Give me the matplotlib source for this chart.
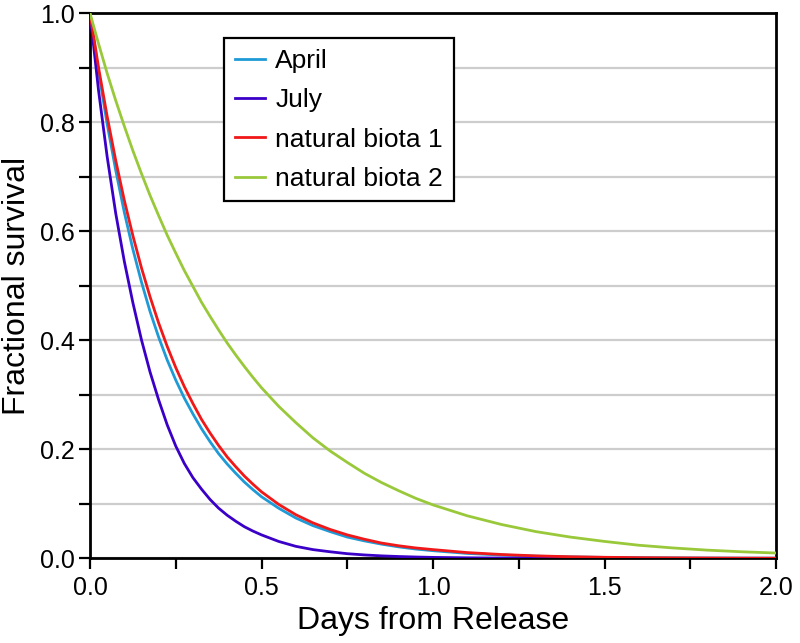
import matplotlib
matplotlib.use("Agg")
import matplotlib.pyplot as plt
from matplotlib.ticker import MultipleLocator, FormatStrFormatter

plt.rcParams['font.family'] = ['Liberation Sans', 'DejaVu Sans']

days = [0.0, 0.025, 0.05, 0.075, 0.1, 0.125, 0.15, 0.175, 0.2, 0.225, 0.25, 0.275, 0.3,
        0.325, 0.35, 0.375, 0.4, 0.425, 0.45, 0.475, 0.5,
        0.55, 0.6, 0.65, 0.7, 0.75, 0.8, 0.85, 0.9, 0.95, 1.0,
        1.1, 1.2, 1.3, 1.4, 1.5, 1.6, 1.7, 1.8, 1.9, 2.0]

april = [1.0, 0.893, 0.797, 0.712, 0.635, 0.567, 0.507, 0.453, 0.406, 0.364, 0.327, 0.294, 0.265,
         0.238, 0.214, 0.192, 0.173, 0.156, 0.140, 0.126, 0.113,
         0.092, 0.074, 0.060, 0.049, 0.039, 0.032, 0.026, 0.021, 0.017, 0.014,
         0.009, 0.006, 0.0039, 0.0026, 0.0017, 0.0011, 0.0007, 0.0005, 0.0003, 0.0002]

july = [1.0, 0.858, 0.737, 0.633, 0.545, 0.469, 0.401, 0.342, 0.291, 0.245, 0.206, 0.174, 0.148,
        0.127, 0.108, 0.092, 0.079, 0.068, 0.058, 0.050, 0.043,
        0.031, 0.022, 0.016, 0.012, 0.0085, 0.0062, 0.0045, 0.0033, 0.0024, 0.0017,
        0.0009, 0.0005, 0.0003, 0.0001, 0.0001, 0.0, 0.0, 0.0, 0.0, 0.0]

natural_biota_1 = [1.0, 0.900, 0.811, 0.730, 0.657, 0.592, 0.533, 0.480, 0.432, 0.389, 0.350, 0.315, 0.284,
                   0.255, 0.230, 0.207, 0.186, 0.168, 0.151, 0.136, 0.122,
                   0.099, 0.080, 0.065, 0.053, 0.043, 0.035, 0.028, 0.023, 0.019, 0.016,
                   0.0105, 0.007, 0.0045, 0.0029, 0.0019, 0.0012, 0.0008, 0.0005, 0.0003, 0.0002]

natural_biota_2 = [1.0, 0.944, 0.890, 0.840, 0.793, 0.748, 0.706, 0.666, 0.629, 0.593, 0.560, 0.528, 0.499,
                   0.470, 0.444, 0.419, 0.395, 0.373, 0.352, 0.332, 0.313,
                   0.279, 0.249, 0.221, 0.197, 0.176, 0.156, 0.139, 0.124, 0.110, 0.098,
                   0.078, 0.062, 0.049, 0.039, 0.031, 0.024, 0.019, 0.015, 0.012, 0.0097]

series_names = ["April", "July", "natural biota 1", "natural biota 2"]
series_values = [april, july, natural_biota_1, natural_biota_2]
colors = ["#1e9ad6", "#3a00c8", "#f01818", "#99c93a"]

fig = plt.figure(figsize=(8.0, 6.43), dpi=100)
ax = fig.add_axes([0.1125, 0.1317, 0.8575, 0.8476])

for name, vals, c in zip(series_names, series_values, colors):
    ax.plot(days, vals, color=c, lw=2.0, label=name, zorder=3)

ax.set_xlim(0, 2.0)
ax.set_ylim(0, 1.0)
ax.xaxis.set_major_locator(MultipleLocator(0.5))
ax.xaxis.set_minor_locator(MultipleLocator(0.25))
ax.yaxis.set_major_locator(MultipleLocator(0.2))
ax.yaxis.set_minor_locator(MultipleLocator(0.1))
ax.xaxis.set_major_formatter(FormatStrFormatter('%.1f'))
ax.yaxis.set_major_formatter(FormatStrFormatter('%.1f'))

ax.grid(True, axis='y', which='both', color='#cdcdcd', lw=1.6, zorder=0)
ax.set_axisbelow(True)

for s in ax.spines.values():
    s.set_linewidth(2.0)
    s.set_color('black')

ax.tick_params(axis='both', which='both', direction='out', length=8, width=1.6,
               colors='black', labelsize=18, pad=3)
ax.tick_params(axis='x', which='both', pad=5)
ax.tick_params(top=False, right=False)

ax.set_xlabel("Days from Release", fontsize=23, labelpad=4)
ax.set_ylabel("Fractional survival", fontsize=23, labelpad=6)

leg = ax.legend(loc='upper left', bbox_to_anchor=(0.1953, 0.954), borderaxespad=0,
                fontsize=19, frameon=True, fancybox=False, handlelength=1.15,
                handletextpad=0.4, labelspacing=0.58, borderpad=0.4)
leg.get_frame().set_edgecolor('black')
leg.get_frame().set_linewidth(1.6)
leg.get_frame().set_alpha(1)

fig.savefig("out.png", dpi=100)
